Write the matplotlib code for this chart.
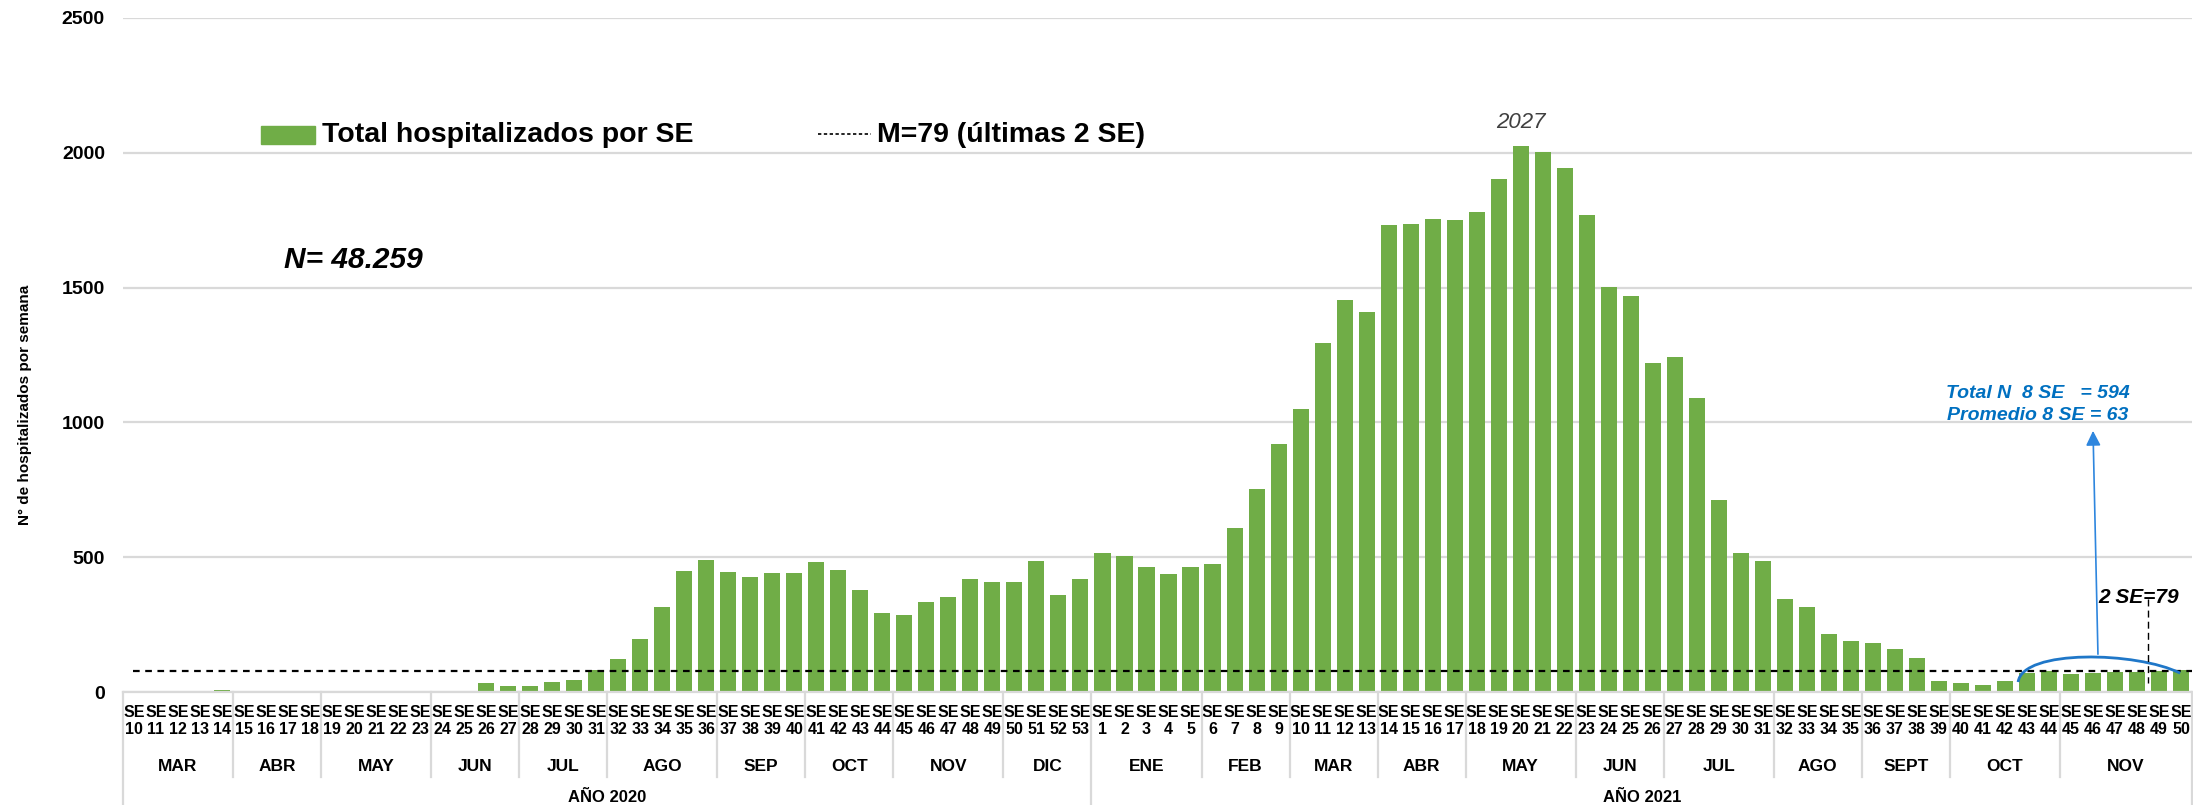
import numpy as np
import matplotlib.pyplot as plt
from matplotlib.patches import Rectangle, PathPatch
from matplotlib.path import Path
from matplotlib.lines import Line2D

plt.rcParams['font.family'] = ['Liberation Sans', 'DejaVu Sans']

# semanas epidemiológicas y hospitalizados por semana
se_2020 = list(range(10, 54))
hosp_2020 = [0, 0, 0, 0, 6, 0, 0, 5, 0, 5, 0, 0, 0, 5, 0, 0, 33, 22, 22, 37,
             46, 80, 121, 196, 315, 447, 491, 446, 428, 442, 442, 483, 453, 379,
             293, 284, 333, 352, 420, 409, 409, 486, 360, 420]
se_2021 = list(range(1, 51))
hosp_2021 = [517, 506, 462, 436, 462, 473, 607, 753, 920, 1048, 1296, 1454, 1410,
             1732, 1736, 1754, 1751, 1780, 1904, 2027, 2002, 1942, 1769, 1502,
             1469, 1222, 1241, 1090, 712, 517, 486, 344, 317, 214, 191, 183, 161,
             127, 40, 32, 25, 40, 70, 78, 66, 72, 75, 75, 78, 80]

meses_2020 = ['MAR', 'ABR', 'MAY', 'JUN', 'JUL', 'AGO', 'SEP', 'OCT', 'NOV', 'DIC']
n_sem_2020 = [5, 4, 5, 4, 4, 5, 4, 4, 5, 4]
meses_2021 = ['ENE', 'FEB', 'MAR', 'ABR', 'MAY', 'JUN', 'JUL', 'AGO', 'SEPT', 'OCT', 'NOV']
n_sem_2021 = [5, 4, 4, 4, 5, 4, 5, 4, 4, 5, 6]
anios = ['AÑO 2020', 'AÑO 2021']

media_2se = 79
total_8se = 594
prom_8se = 63
total_n = '48.259'

green = '#70AD47'
grid = '#D9D9D9'
blue = '#0070C0'

valores = hosp_2020 + hosp_2021
semanas = se_2020 + se_2021
x = np.arange(len(valores))

fig = plt.figure(figsize=(21.93, 8.05), dpi=100)
ax = fig.add_axes([123 / 2193, 113 / 805, 2069 / 2193, 674 / 805])

ax.bar(x, valores, width=0.73, color=green, zorder=2)
ax.axhline(media_2se, color='black', ls=(0, (3, 2.5)), lw=1.6, xmin=0.005, zorder=3)

ax.set_xlim(-0.5, len(valores) - 0.5)
ax.set_ylim(0, 2500)
ax.set_yticks(np.arange(0, 2501, 500))
ax.yaxis.grid(True, color=grid, lw=1.6, zorder=0)
for s in ['top', 'right', 'left']:
    ax.spines[s].set_visible(False)
ax.spines['bottom'].set_color(grid)
ax.spines['bottom'].set_linewidth(1.6)
ax.tick_params(axis='y', length=0, pad=13, labelsize=14)
for lbl in ax.get_yticklabels():
    lbl.set_fontweight('bold')

ax.set_xticks(x)
ax.set_xticklabels(['SE\n%d' % s for s in semanas], fontsize=11.5, fontweight='bold',
                   linespacing=1.2)
ax.tick_params(axis='x', length=0, pad=9)

# niveles de meses y años bajo el eje
tr = ax.get_xaxis_transform()
h = 674.0
ax.plot([-0.5, -0.5], [0, -113 / h], color=grid, lw=1.6, transform=tr, clip_on=False)
pos = -0.5
for meses, nsem in [(meses_2020, n_sem_2020), (meses_2021, n_sem_2021)]:
    start = pos
    for i, (m, n) in enumerate(zip(meses, nsem)):
        ax.text(pos + n / 2, -74 / h, m, transform=tr, ha='center', va='center',
                fontsize=12.5, fontweight='bold')
        pos += n
        if i < len(meses) - 1:
            ax.plot([pos, pos], [0, -85 / h], color=grid, lw=1.6, transform=tr, clip_on=False)
    ax.plot([pos, pos], [0, -113 / h], color=grid, lw=1.6, transform=tr, clip_on=False)
    ax.text((start + pos) / 2, -105 / h, anios[0 if start < 0 else 1], transform=tr,
            ha='center', va='center', fontsize=12, fontweight='bold')

fig.text(25 / 2193, 1 - 405 / 805, 'N° de hospitalizados por semana', rotation=90,
         ha='center', va='center', fontsize=11, fontweight='bold')

# leyenda
fig.patches.append(Rectangle((261 / 2193, 1 - 144 / 805), 54 / 2193, 18 / 805,
                             transform=fig.transFigure, color=green))
fig.text(322 / 2193, 1 - 135 / 805, 'Total hospitalizados por SE', ha='left', va='center',
         fontsize=20.5, fontweight='bold')
fig.lines.append(Line2D([818 / 2193, 871 / 2193], [1 - 134 / 805] * 2, transform=fig.transFigure,
                        color='black', ls=(0, (2, 1.5)), lw=1.2))
fig.text(877 / 2193, 1 - 135 / 805, 'M=%d (últimas 2 SE)' % media_2se, ha='left', va='center',
         fontsize=20.5, fontweight='bold')

ax.text(6.8, 1602, 'N= ' + total_n, ha='left', va='center', fontsize=21.5,
        fontweight='bold', style='italic')

# valor máximo
imax = int(np.argmax(valores))
ax.annotate(str(valores[imax]), (imax, valores[imax]), xytext=(0, 9), textcoords='offset points',
            ha='center', va='bottom', fontsize=16, style='italic', color='#404040')

# resumen de las últimas 8 semanas
ax.text(86.5, 1109, 'Total N  8 SE   = %d' % total_8se, ha='center', va='center',
        fontsize=14, fontweight='bold', style='italic', color=blue)
ax.text(86.5, 1027, 'Promedio 8 SE = %d' % prom_8se, ha='center', va='center',
        fontsize=14, fontweight='bold', style='italic', color=blue)
ax.annotate('', xy=(89.0, 979), xytext=(89.23, 130),
            arrowprops=dict(arrowstyle='-|>', color='#2E86DE', lw=1.2, mutation_scale=22),
            zorder=5)
arc = Path([(85.6, 37), (85.8, 160), (91.0, 150), (92.96, 70)],
           [Path.MOVETO, Path.CURVE4, Path.CURVE4, Path.CURVE4])
ax.add_patch(PathPatch(arc, fc='none', ec='#1F77C8', lw=2, zorder=5))

ax.text(89.23, 349, '2 SE=%d' % media_2se, ha='left', va='center', fontsize=15,
        fontweight='bold', style='italic', color='black')
ax.plot([91.5, 91.5], [345, 33], color='black', ls=(0, (5, 3)), lw=1, zorder=5)

fig.savefig('out.png', dpi=100)
